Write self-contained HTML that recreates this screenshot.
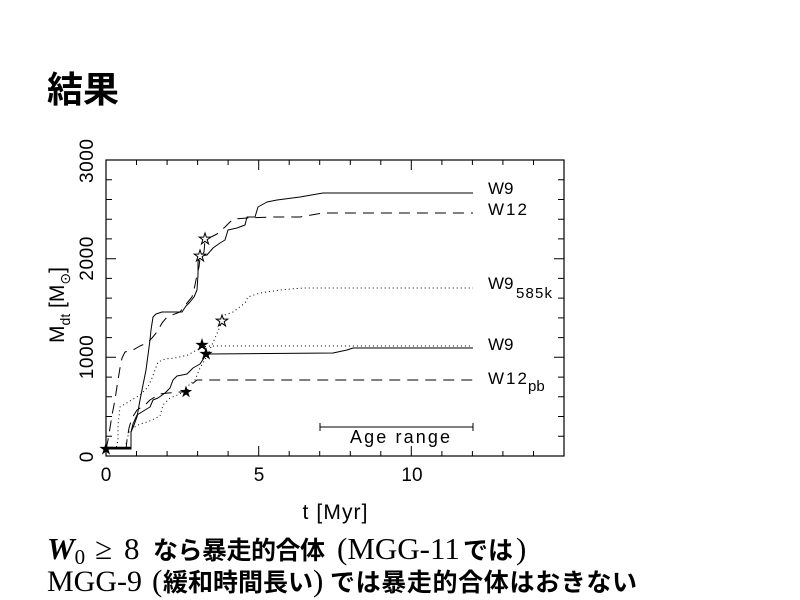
<!DOCTYPE html>
<html><head><meta charset="utf-8"><style>
html,body{margin:0;padding:0;background:#fff;}
svg{display:block;}
</style></head><body>
<svg width="800" height="600" viewBox="0 0 800 600" xmlns="http://www.w3.org/2000/svg">
<rect x="0" y="0" width="800" height="600" fill="#fff"/>
<defs>
<path id="st" d="M0,-1 L0.224,-0.309 L0.951,-0.309 L0.363,0.118 L0.588,0.809 L0,0.382 L-0.588,0.809 L-0.363,0.118 L-0.951,-0.309 L-0.224,-0.309 Z"/>
</defs>
<!-- title -->
<text x="47" y="102" font-family="'Liberation Sans','Noto Sans CJK JP',sans-serif" font-weight="bold" font-size="36" fill="#000">結果</text>

<!-- frame -->
<rect x="106" y="160" width="458" height="296" fill="none" stroke="#000" stroke-width="1.2"/>
<g stroke="#000" stroke-width="1" fill="none">
<path d="M136.5 456V451 M167.1 456V451 M197.6 456V451 M228.1 456V451 M258.7 456V446 M289.2 456V451 M319.7 456V451 M350.3 456V451 M380.8 456V451 M411.3 456V446 M441.9 456V451 M472.4 456V451 M502.9 456V451 M533.5 456V451"/>
<path d="M136.5 160V165 M167.1 160V165 M197.6 160V165 M228.1 160V165 M258.7 160V170 M289.2 160V165 M319.7 160V165 M350.3 160V165 M380.8 160V165 M411.3 160V170 M441.9 160V165 M472.4 160V165 M502.9 160V165 M533.5 160V165"/>
<path d="M106 436.3H112 M106 416.5H112 M106 396.8H112 M106 377.1H112 M106 357.3H116 M106 337.6H112 M106 317.9H112 M106 298.1H112 M106 278.4H112 M106 258.7H116 M106 238.9H112 M106 219.2H112 M106 199.5H112 M106 179.7H112"/>
<path d="M564 436.3H558 M564 416.5H558 M564 396.8H558 M564 377.1H558 M564 357.3H554 M564 337.6H558 M564 317.9H558 M564 298.1H558 M564 278.4H558 M564 258.7H554 M564 238.9H558 M564 219.2H558 M564 199.5H558 M564 179.7H558"/>
</g>

<!-- tick labels -->
<g font-family="'Liberation Sans',sans-serif" font-size="19" fill="#000" text-anchor="middle">
<text x="106" y="481">0</text>
<text x="259" y="481">5</text>
<text x="412" y="481">10</text>
<text transform="translate(93,457) rotate(-90)" x="0" y="0">0</text>
<text transform="translate(93,357.3) rotate(-90)" x="0" y="0" textLength="44" lengthAdjust="spacing">1000</text>
<text transform="translate(93,258.7) rotate(-90)" x="0" y="0" textLength="44" lengthAdjust="spacing">2000</text>
<text transform="translate(93,161) rotate(-90)" x="0" y="0" textLength="44" lengthAdjust="spacing">3000</text>
<text x="335" y="519" font-size="21" textLength="65" lengthAdjust="spacing">t [Myr]</text>
<text transform="translate(64,305) rotate(-90)" x="0" y="0" font-size="21">M<tspan font-size="14" dy="6">dt</tspan><tspan dy="-6"> [M</tspan><tspan font-size="14" dy="6">⊙</tspan><tspan dy="-6">]</tspan></text>
</g>

<!-- curves -->
<g fill="none" stroke="#000" stroke-width="1" stroke-linejoin="round">
<path d="M106 449 L131 449 L131 432 L134 425 L137 417 L140 400 L143 385 L146 370 L148 355 L150 340 L151 330 L153 317 L156 314 L162 312 L182 312 L186 306 L190 302 L194 297 L197 290 L198 275 L198 262 L200 256 L207 255 L213 248 L220 243 L225 240 L228 230 L237 228 L245 225 L247 217 L255 217 L258 207 L267 202 L277 200 L300 197 L323 193 L473 193"/>
<path stroke-dasharray="11 7" d="M106 449 L108 440 L110 428 L112 415 L114 405 L116 393 L118 380 L120 368 L122 358 L125 352 L133 350 L140 346 L147 343 L152 338 L157 332 L162 323 L167 317 L172 315 L180 312 L187 303 L192 297 L195 285 L197 275 L199 267 L200 258 L204 252 L205 240 L213 236 L217 234 L225 227 L233 219 L247 218 L273 217 L300 217 L323 213 L473 213"/>
<path d="M131 432 L133 424 L137 415 L145 410 L150 407 L153 400 L158 398 L165 393 L170 388 L173 380 L177 376 L187 374 L193 368 L200 364 L206 355 L210 354 L333 353 L347 350 L353 348 L473 348"/>
<path stroke-dasharray="1 3" d="M106 449 L116 449 L118 440 L118 425 L120 407 L130 401 L140 395 L148 387 L152 378 L155 370 L158 362 L165 359 L175 358 L188 355 L202 347 L210 346 L473 346"/>
<path stroke-dasharray="1 3" d="M106 449 L125 449 L127 440 L129 432 L133 428 L140 424 L147 422 L152 420 L160 416 L163 405 L170 398 L180 394 L190 384 L195 380 L200 368 L207 356 L215 338 L222 322 L225 315 L233 312 L245 303 L248 297 L260 293 L280 290 L303 288 L473 288"/>
<path stroke-dasharray="11 7" d="M106 449 L126 449 L127 440 L129 428 L132 418 L137 410 L145 405 L150 400 L155 397 L160 394 L168 393 L180 392 L186 392 L192 384 L197 380 L473 380"/>
<path stroke-width="2.5" d="M106 448 L131 448"/>
</g>

<!-- stars -->
<g fill="#000">
<use href="#st" transform="translate(106,449) scale(7)"/>
<use href="#st" transform="translate(202,345) scale(7)"/>
<use href="#st" transform="translate(206,354) scale(7)"/>
<use href="#st" transform="translate(186,392) scale(6.5)"/>
</g>
<g fill="#fff" stroke="#000">
<use href="#st" transform="translate(200,256) scale(6)" stroke-width="0.17"/>
<use href="#st" transform="translate(205,239) scale(6)" stroke-width="0.17"/>
<use href="#st" transform="translate(222,321) scale(6)" stroke-width="0.17"/>
</g>

<!-- legend labels -->
<g font-family="'Liberation Sans',sans-serif" font-size="17" fill="#000">
<text x="488" y="194">W9</text>
<text x="488" y="215" textLength="39" lengthAdjust="spacing">W12</text>
<text x="488" y="289">W9</text>
<text x="516" y="298" font-size="15" textLength="36" lengthAdjust="spacing">585k</text>
<text x="488" y="350">W9</text>
<text x="488" y="384" textLength="39" lengthAdjust="spacing">W12</text>
<text x="528" y="391" font-size="15">pb</text>
</g>

<!-- age range -->
<path d="M320 427H473 M320 423V431 M473 423V431" stroke="#000" stroke-width="1" fill="none"/>
<text x="350" y="443" font-family="'Liberation Sans',sans-serif" font-size="18" textLength="100" lengthAdjust="spacing" fill="#000">Age range</text>

<!-- bottom text -->
<g fill="#000">
<text y="559" font-family="'Liberation Serif',serif" font-size="31"><tspan x="47" font-weight="bold" font-style="italic">W</tspan><tspan font-size="21" dy="5">0</tspan></text>
<text x="95" y="559" font-family="'Liberation Serif','DejaVu Serif',serif" font-size="31">≥</text>
<text x="124" y="559" font-family="'Liberation Serif',serif" font-size="31">8</text>
<text x="153" y="559" font-family="'Liberation Sans','Noto Sans CJK JP',sans-serif" font-weight="bold" font-size="25" textLength="172" lengthAdjust="spacing">なら暴走的合体</text>
<text x="337" y="559" font-family="'Liberation Serif',serif" font-size="31">(MGG-11</text>
<text x="463" y="559" font-family="'Liberation Sans','Noto Sans CJK JP',sans-serif" font-weight="bold" font-size="25">では</text>
<text x="516" y="559" font-family="'Liberation Serif',serif" font-size="31">)</text>

<text x="47" y="591" font-family="'Liberation Serif',serif" font-size="30">MGG-9</text>
<text x="152" y="591" font-family="'Liberation Serif',serif" font-size="31">(</text>
<text x="163" y="591" font-family="'Liberation Sans','Noto Sans CJK JP',sans-serif" font-weight="bold" font-size="25" textLength="150" lengthAdjust="spacing">緩和時間長い</text>
<text x="313" y="591" font-family="'Liberation Serif',serif" font-size="31">)</text>
<text x="330" y="591" font-family="'Liberation Sans','Noto Sans CJK JP',sans-serif" font-weight="bold" font-size="25" textLength="307" lengthAdjust="spacing">では暴走的合体はおきない</text>
</g>
</svg>
</body></html>
